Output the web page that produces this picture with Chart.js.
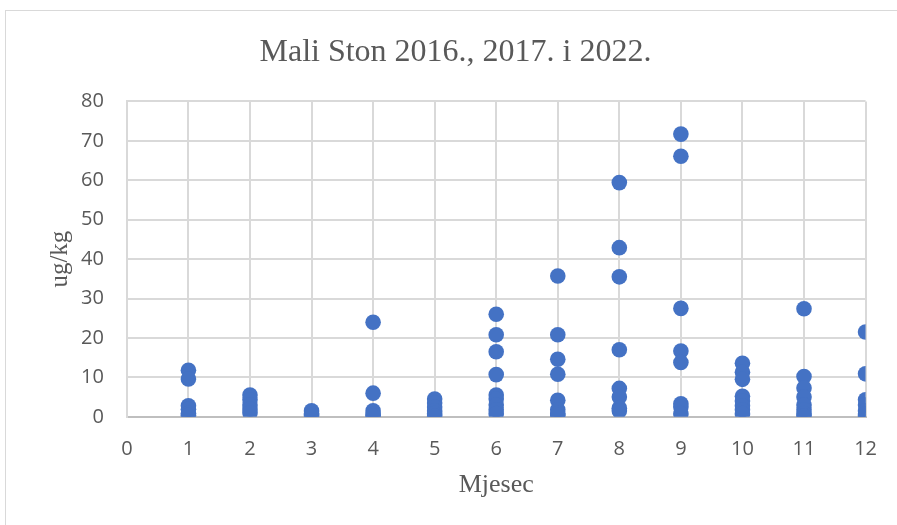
<!DOCTYPE html>
<html>
<head>
<meta charset="utf-8">
<script src="https://cdn.jsdelivr.net/npm/chart.js@4/dist/chart.umd.min.js"></script>
<style>
  body { margin: 0; background: #fff; }
  #frame {
    position: absolute; left: 5px; top: 10px; width: 900px; height: 520px;
    border: 1px solid #d9d9d9; box-sizing: border-box;
  }
  #chart { position: absolute; left: 0; top: 0; }
</style>
</head>
<body>
<div id="frame"></div>
<canvas id="chart" width="897" height="525"></canvas>
<script>
const month1 = [11.8, 9.6, 2.8, 1.9, 0.9, 0.4];
const month2 = [5.5, 4.3, 3.0, 2.0, 1.0];
const month3 = [1.5, 0.8, 0.3];
const month4 = [24.0, 6.0, 1.5, 0.6, 0.2];
const month5 = [4.5, 3.5, 2.5, 1.5, 0.8, 0.2];
const month6 = [26.0, 20.8, 16.5, 10.7, 5.5, 4.5, 3.0, 1.8, 0.8];
const month7 = [35.7, 20.8, 14.6, 10.8, 4.2, 1.8, 0.8, 0.3];
const month8 = [59.4, 42.9, 35.5, 17.0, 7.2, 5.0, 2.2, 1.5];
const month9 = [71.7, 66.1, 27.5, 16.7, 13.8, 3.3, 2.5, 0.8];
const month10 = [13.6, 11.3, 9.5, 5.2, 4.0, 2.8, 1.8, 0.8];
const month11 = [27.4, 10.2, 7.3, 5.0, 3.0, 1.8, 0.8, 0.2];
const month12 = [21.5, 10.9, 4.3, 3.0, 1.5, 0.7, 0.2];

const allMonths = [month1, month2, month3, month4, month5, month6,
  month7, month8, month9, month10, month11, month12];

const gridColor = "#d9d9d9";
const textColor = "#595959";

// flatten into {x, y} points
const points = [];
allMonths.forEach((values, i) => {
  values.forEach((v) => points.push({ x: i + 1, y: v }));
});

const ctx = document.getElementById("chart").getContext("2d");
new Chart(ctx, {
  type: "scatter",
  data: {
    datasets: [
      {
        data: points,
        backgroundColor: "#4472c4",
        borderColor: "#4472c4",
        borderWidth: 0,
        pointRadius: 7.8,
      },
    ],
  },
  options: {
    responsive: false,
    animation: false,
    layout: { padding: { top: 0, right: 31, left: 45, bottom: 24 } },
    scales: {
      x: {
        min: 0,
        max: 12,
        ticks: { stepSize: 1, color: textColor, padding: 20, font: { family: "Open Sans", size: 20 } },
        grid: { color: gridColor, lineWidth: 2, drawTicks: false },
        border: { color: "#bfbfbf", width: 2 },
        title: {
          display: true,
          text: "Mjesec",
          color: textColor,
          font: { family: "Liberation Serif", size: 26 },
          padding: { top: -11, bottom: 0 },
        },
      },
      y: {
        min: 0,
        max: 80,
        ticks: { stepSize: 10, color: textColor, padding: 23, font: { family: "Open Sans", size: 20 } },
        grid: { color: gridColor, lineWidth: 2, drawTicks: false },
        border: { color: gridColor, width: 2 },
        title: {
          display: true,
          text: "ug/kg",
          color: textColor,
          font: { family: "Liberation Serif", size: 25 },
          padding: { top: 0, bottom: -17 },
        },
      },
    },
    plugins: {
      legend: { display: false },
      tooltip: { enabled: false },
      title: {
        display: true,
        text: "Mali Ston 2016., 2017. i 2022.",
        color: textColor,
        font: { family: "Liberation Serif", size: 32, weight: "normal" },
        padding: { top: 33, bottom: 30 },
      },
    },
  },
});
</script>
</body>
</html>
